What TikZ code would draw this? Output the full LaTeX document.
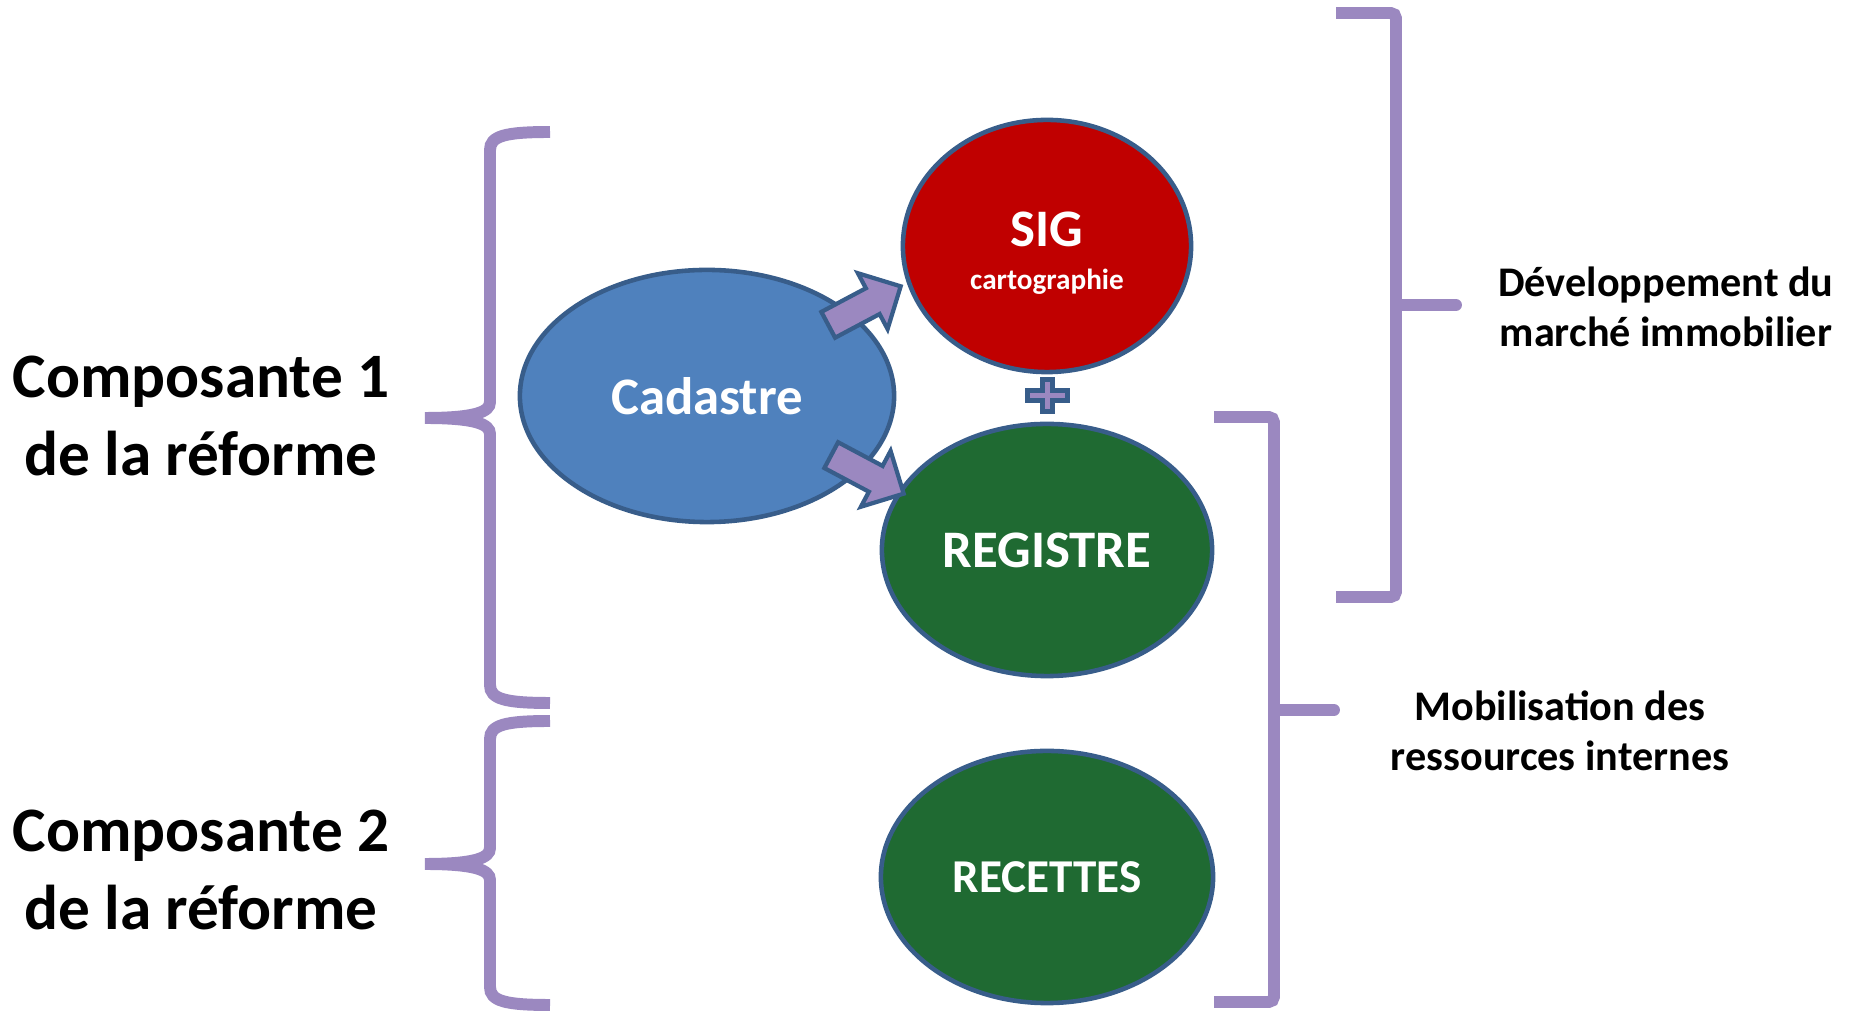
\documentclass[tikz,border=0pt]{standalone}
\usepackage{fontspec}
\setmainfont{Carlito}
\usetikzlibrary{shapes.geometric,shapes.arrows}
\definecolor{lila}{HTML}{9B88C0}
\definecolor{rim}{HTML}{385D8A}
\definecolor{cadblue}{HTML}{4F81BD}
\definecolor{sigred}{HTML}{C00000}
\definecolor{regreen}{HTML}{1F6A32}

\begin{document}
\begin{tikzpicture}[x=0.01cm,y=-0.01cm,
  bulle/.style={ellipse,draw=rim,line width=1.3pt,inner sep=0pt,text=white,align=center,minimum height=2.52cm},
  fleche/.style={single arrow,draw=rim,fill=lila,line width=1.2pt,inner sep=0.125cm,minimum height=0.82cm,single arrow head extend=0.17cm},
  brace/.style={draw=lila,line width=3.4pt},
  titre/.style={font=\bfseries\fontsize{18}{22}\selectfont,align=center},
  note/.style={font=\bfseries\fontsize{12}{14.4}\selectfont,align=center}]
  \useasboundingbox (0,0) rectangle (1853,1013);
  \foreach \t/\m/\b in {132/418/703,721/864/1005}
    \draw[brace] (550,\t) .. controls (505,\t) and (490,\t+4) .. (490,\t+18) -- (490,\m-16)
      .. controls (490,\m-6) and (475,\m) .. (425,\m) .. controls (475,\m) and (490,\m+6) .. (490,\m+16)
      -- (490,\b-18) .. controls (490,\b-4) and (505,\b) .. (550,\b);
  \foreach \x/\t/\m/\b in {1396/13/305/597,1274/417/710/1002} {
    \draw[brace,rounded corners=1.5pt] (\x-60,\t) -- (\x,\t) -- (\x,\b) -- (\x-60,\b);
    \draw[brace,line cap=round] (\x,\m) -- (\x+60,\m);
  }
  \node[titre] (comp1) at (201,416) {Composante 1\\de la réforme};
  \node[titre] (comp2) at (201,870) {Composante 2\\de la réforme};
  \node[note] (marche) at (1666,307) {Développement du\\marché immobilier};
  \node[note] (ressources) at (1560,731) {Mobilisation des\\ressources internes};
  \node[bulle,fill=cadblue,minimum width=3.74cm,font=\bfseries\fontsize{15}{18}\selectfont] (cad) at (707,396) {Cadastre};
  \node[bulle,fill=sigred,minimum width=2.88cm,font=\bfseries\fontsize{15}{12.2}\selectfont] (sig) at (1047,246)
    {\rule{0pt}{13.7pt}SIG\\\fontsize{8.3}{12.2}\selectfont cartographie};
  \node[bulle,fill=regreen,minimum width=3.30cm,font=\bfseries\fontsize{15}{18}\selectfont] (reg) at (1047,550) {REGISTRE};
  \node[bulle,fill=regreen,minimum width=3.32cm,font=\bfseries\fontsize{13.4}{16}\selectfont] (rec) at (1047,877) {RECETTES};
  \node[fleche,rotate=28] (vsig) at (858,309) {};
  \node[fleche,rotate=-28] (vreg) at (861,471) {};
  \draw[draw=rim,fill=lila,line width=1.4pt] (1047.5,395.5) +(-5,-16) -- +(5,-16) -- +(5,-5) -- +(20,-5) -- +(20,5)
    -- +(5,5) -- +(5,16) -- +(-5,16) -- +(-5,5) -- +(-20,5) -- +(-20,-5) -- +(-5,-5) -- cycle;
\end{tikzpicture}
\end{document}
